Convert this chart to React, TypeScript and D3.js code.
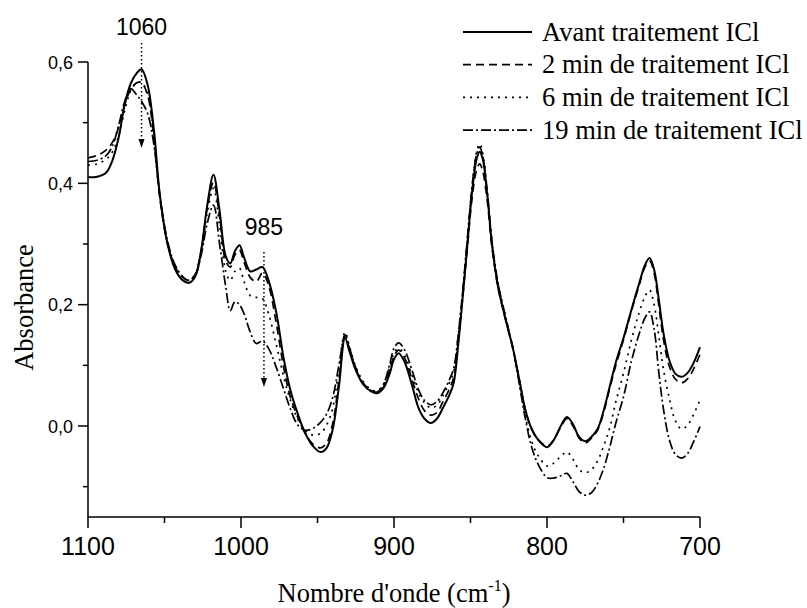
import React from 'react';
import * as d3 from 'd3';

// wavenumber grid (cm-1), shared by all four spectra
const waves = [
  1100, 1094, 1088, 1084, 1080, 1076, 1072, 1068, 1065, 1061, 1057, 1053, 1048, 1043, 1038, 1034,
  1030, 1026, 1022, 1018, 1014, 1010, 1007, 1004, 1001, 998, 994, 990, 986, 982, 977, 972,
  968, 963, 958, 953, 948, 944, 940, 936, 932, 929, 925, 920, 915, 911, 907, 903,
  900, 897, 893, 888, 884, 880, 876, 872, 868, 864, 861, 858, 855, 852, 849, 846,
  844, 842, 839, 836, 832, 828, 825, 822, 818, 814, 810, 806, 800, 796, 791, 787,
  783, 779, 775, 771, 767, 763, 759, 755, 750, 745, 740, 736, 733, 730, 727, 724,
  720, 716, 712, 708, 704, 700,
];

const avant = [
  0.410, 0.411, 0.418, 0.438, 0.475, 0.530, 0.565, 0.582, 0.588, 0.562, 0.490, 0.380, 0.300, 0.258, 0.240, 0.236,
  0.246, 0.290, 0.365, 0.414, 0.355, 0.280, 0.268, 0.288, 0.298, 0.278, 0.255, 0.258, 0.262, 0.240, 0.188, 0.110,
  0.062, 0.021, -0.012, -0.033, -0.043, -0.036, -0.005, 0.065, 0.145, 0.122, 0.092, 0.068, 0.057, 0.054, 0.062, 0.085,
  0.110, 0.120, 0.105, 0.065, 0.030, 0.012, 0.005, 0.012, 0.030, 0.050, 0.071, 0.135, 0.215, 0.300, 0.385, 0.440,
  0.452, 0.440, 0.380, 0.300, 0.230, 0.185, 0.155, 0.125, 0.075, 0.025, -0.005, -0.022, -0.035, -0.025, 0.000, 0.015,
  0.003, -0.018, -0.025, -0.018, -0.005, 0.025, 0.065, 0.105, 0.145, 0.190, 0.233, 0.265, 0.277, 0.258, 0.210, 0.155,
  0.108, 0.086, 0.081, 0.088, 0.105, 0.130,
];

const min2 = [
  0.442, 0.446, 0.455, 0.468, 0.492, 0.530, 0.555, 0.566, 0.566, 0.545, 0.475, 0.375, 0.300, 0.262, 0.245, 0.240,
  0.250, 0.290, 0.360, 0.402, 0.345, 0.272, 0.262, 0.282, 0.290, 0.270, 0.245, 0.238, 0.252, 0.232, 0.170, 0.095,
  0.050, 0.015, -0.012, -0.030, -0.036, -0.028, 0.005, 0.075, 0.150, 0.125, 0.094, 0.070, 0.058, 0.055, 0.064, 0.090,
  0.115, 0.125, 0.112, 0.075, 0.045, 0.025, 0.018, 0.022, 0.040, 0.060, 0.080, 0.140, 0.215, 0.295, 0.375, 0.422,
  0.432, 0.420, 0.370, 0.295, 0.228, 0.185, 0.155, 0.125, 0.075, 0.025, -0.005, -0.022, -0.033, -0.024, -0.002, 0.012,
  0.000, -0.020, -0.028, -0.020, -0.007, 0.022, 0.062, 0.100, 0.142, 0.188, 0.230, 0.262, 0.272, 0.252, 0.200, 0.145,
  0.098, 0.077, 0.071, 0.078, 0.095, 0.118,
];

const min6 = [
  0.430, 0.432, 0.440, 0.452, 0.478, 0.520, 0.553, 0.566, 0.566, 0.548, 0.480, 0.378, 0.300, 0.262, 0.245, 0.240,
  0.250, 0.288, 0.352, 0.392, 0.330, 0.255, 0.240, 0.255, 0.260, 0.238, 0.215, 0.212, 0.210, 0.185, 0.135, 0.080,
  0.045, 0.012, -0.008, -0.015, -0.012, 0.002, 0.030, 0.095, 0.155, 0.130, 0.098, 0.073, 0.060, 0.058, 0.068, 0.095,
  0.120, 0.128, 0.116, 0.082, 0.055, 0.038, 0.030, 0.034, 0.050, 0.070, 0.090, 0.150, 0.225, 0.310, 0.395, 0.452,
  0.465, 0.450, 0.385, 0.305, 0.235, 0.190, 0.158, 0.125, 0.070, 0.015, -0.025, -0.048, -0.066, -0.062, -0.050, -0.043,
  -0.055, -0.072, -0.077, -0.072, -0.058, -0.033, -0.003, 0.040, 0.087, 0.140, 0.185, 0.213, 0.224, 0.200, 0.150, 0.095,
  0.045, 0.008, -0.005, 0.002, 0.020, 0.043,
];

const min19 = [
  0.436, 0.438, 0.446, 0.462, 0.495, 0.535, 0.556, 0.545, 0.535, 0.515, 0.465, 0.380, 0.305, 0.265, 0.246, 0.240,
  0.248, 0.282, 0.335, 0.364, 0.300, 0.230, 0.190, 0.205, 0.200, 0.185, 0.155, 0.136, 0.140, 0.128, 0.097, 0.060,
  0.030, 0.002, -0.007, -0.004, 0.006, 0.020, 0.048, 0.100, 0.150, 0.128, 0.096, 0.070, 0.058, 0.056, 0.068, 0.100,
  0.128, 0.137, 0.125, 0.090, 0.060, 0.042, 0.035, 0.040, 0.055, 0.075, 0.095, 0.150, 0.225, 0.310, 0.393, 0.448,
  0.460, 0.445, 0.385, 0.305, 0.235, 0.190, 0.158, 0.125, 0.068, 0.010, -0.035, -0.062, -0.085, -0.086, -0.082, -0.078,
  -0.092, -0.108, -0.114, -0.110, -0.095, -0.070, -0.035, 0.005, 0.048, 0.105, 0.150, 0.178, 0.188, 0.160, 0.090, 0.030,
  -0.023, -0.047, -0.053, -0.045, -0.025, -0.001,
];

const seriesNames = [
  'Avant traitement ICl',
  '2 min de traitement ICl',
  '6 min de traitement ICl',
  '19 min de traitement ICl',
];
const seriesValues = [avant, min2, min6, min19];
const dashes = ['', '8,5', '2,5', '10,3,2,3'];

const xMajor = [1100, 1000, 900, 800, 700];
const xMinor = [1050, 950, 850, 750];
const yMajor = [0.6, 0.4, 0.2, 0.0];
const yMinor = [0.5, 0.3, 0.1, -0.1];

const marks = [
  {label: '1060', at: 1065, top: 43, tip: 148, textY: 35},
  {label: '985', at: 985, top: 252, tip: 387, textY: 235},
];

const W = 807;
const H = 608;
const left = 88, right = 700, top = 62, bottom = 517;

export default function App() {
  const x = d3.scaleLinear().domain([1100, 700]).range([left, right]);
  const y = d3.scaleLinear().domain([-0.15, 0.6]).range([bottom, top]);

  const line = d3.line<number>()
    .x((d, i) => x(waves[i]))
    .y(d => y(d))
    .curve(d3.curveCatmullRom.alpha(0.5));

  const fmt = (v: number) => v.toFixed(1).replace('.', ',');

  return (
    <svg width={W} height={H} style={{position: 'absolute', left: 0, top: 0, background: '#fff'}}>
      <rect width={W} height={H} fill="#fff" />

      {seriesValues.map((vals, i) => (
        <path key={i} d={line(vals) || ''} fill="none" stroke="#000"
          strokeWidth={i === 0 ? 2 : 1.7} strokeDasharray={dashes[i] || undefined} />
      ))}

      {/* axes */}
      <g stroke="#000" strokeWidth={1.5}>
        <line x1={left} x2={left} y1={top} y2={bottom + 0.75} />
        <line x1={left} x2={right} y1={bottom} y2={bottom} />
        {yMajor.map(v => <line key={'ym' + v} x1={left - 10} x2={left} y1={y(v)} y2={y(v)} />)}
        {yMinor.map(v => <line key={'yn' + v} x1={left - 5} x2={left} y1={y(v)} y2={y(v)} />)}
        {xMajor.map(v => <line key={'xm' + v} x1={x(v)} x2={x(v)} y1={bottom} y2={bottom + 11} />)}
        {xMinor.map(v => <line key={'xn' + v} x1={x(v)} x2={x(v)} y1={bottom} y2={bottom + 6} />)}
      </g>

      <g fontFamily="Arial, 'Liberation Sans', sans-serif" fill="#000">
        {yMajor.map(v => (
          <text key={'yl' + v} x={left - 15} y={y(v) + 6.5} fontSize={18} textAnchor="end">{fmt(v)}</text>
        ))}
        {xMajor.map(v => (
          <text key={'xl' + v} x={x(v)} y={555} fontSize={25} textAnchor="middle">{v}</text>
        ))}
      </g>

      <g fontFamily="'Times New Roman', 'Liberation Serif', serif" fill="#000" fontSize={26.5}>
        <text x={(left + right) / 2} y={602} textAnchor="middle">
          Nombre d'onde (cm<tspan fontSize={16} dy={-11}>-1</tspan><tspan dy={11}>)</tspan>
        </text>
        <text transform={`translate(33,${(top + bottom) / 2 + 18}) rotate(-90)`} textAnchor="middle">Absorbance</text>
      </g>

      {/* legend */}
      <g fontFamily="'Times New Roman', 'Liberation Serif', serif" fontSize={26.5}>
        {seriesNames.map((name, i) => {
          const ly = 32 + i * 32.7;
          return (
            <g key={name}>
              <line x1={463} x2={532} y1={ly} y2={ly} stroke="#000"
                strokeWidth={i === 0 ? 2 : 1.7} strokeDasharray={dashes[i] || undefined} />
              <text x={542} y={ly + 8.5} fill="#000">{name}</text>
            </g>
          );
        })}
      </g>

      {/* peak annotations */}
      {marks.map(m => {
        const px = x(m.at);
        return (
          <g key={m.label}>
            <text x={px} y={m.textY} fontFamily="Arial, 'Liberation Sans', sans-serif" fontSize={23}
              textAnchor="middle">{m.label}</text>
            <line x1={px} x2={px} y1={m.top} y2={m.tip - 8} stroke="#000" strokeWidth={1.5}
              strokeDasharray="1.5,2.5" />
            <path d={`M${px - 3},${m.tip - 9}L${px + 3},${m.tip - 9}L${px},${m.tip}Z`} fill="#000" />
          </g>
        );
      })}
    </svg>
  );
}
